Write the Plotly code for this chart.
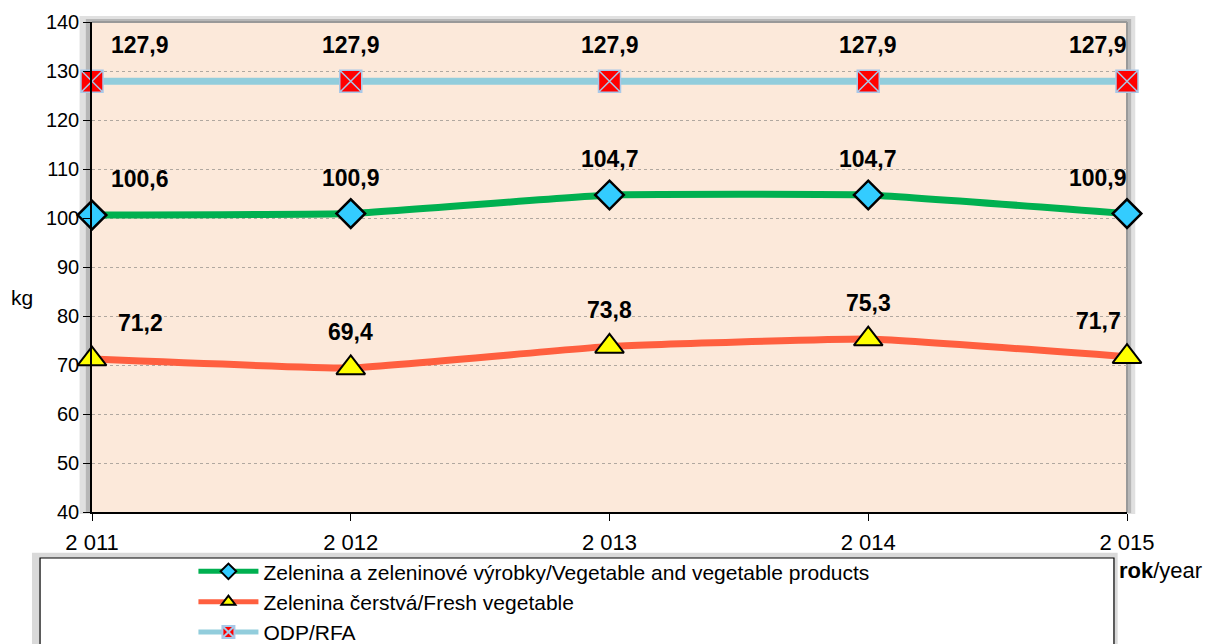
import plotly.graph_objects as go

years = [2011, 2012, 2013, 2014, 2015]
year_labels = ["2 011", "2 012", "2 013", "2 014", "2 015"]
veg_products = [100.6, 100.9, 104.7, 104.7, 100.9]
fresh_veg = [71.2, 69.4, 73.8, 75.3, 71.7]
rfa = [127.9, 127.9, 127.9, 127.9, 127.9]

names = ["Zelenina a zeleninové výrobky/Vegetable and vegetable products",
         "Zelenina čerstvá/Fresh vegetable",
         "ODP/RFA"]

FONT = "Liberation Sans, Arial, sans-serif"

def fmt(v):
    return f"{v:.1f}".replace(".", ",")

fig = go.Figure()

fig.add_trace(go.Scatter(
    x=years, y=veg_products, name=names[0], mode="lines+markers",
    line=dict(color="#00B050", width=7, shape="spline", smoothing=0.3),
    marker=dict(symbol="diamond", size=22, color="#33CCFF", line=dict(color="black", width=2.5)),
    cliponaxis=False))
fig.add_trace(go.Scatter(
    x=years, y=fresh_veg, name=names[1], mode="lines+markers",
    line=dict(color="#FF5F3F", width=7, shape="spline", smoothing=0.3),
    marker=dict(symbol="triangle-up", size=25, color="#FFFF00", line=dict(color="black", width=2)),
    cliponaxis=False))
fig.add_trace(go.Scatter(
    x=years, y=rfa, name=names[2], mode="lines+markers",
    line=dict(color="#92CDDC", width=7),
    marker=dict(symbol="square-x", size=22, color="#FF0000", line=dict(color="#A8C8E8", width=1.5)),
    cliponaxis=False))

# data labels
xshifts = [48, 0, 0, 0, -29]
for series in (rfa, veg_products, fresh_veg):
    for i, (x, v) in enumerate(zip(years, series)):
        fig.add_annotation(x=x, y=v, text="<b>" + fmt(v) + "</b>", showarrow=False,
                           xshift=xshifts[i], yshift=36,
                           font=dict(family=FONT, size=23, color="black"))

# axis titles
fig.add_annotation(xref="paper", yref="paper", x=-0.0676, y=0.437, text="kg", showarrow=False,
                   xanchor="center", yanchor="middle", font=dict(family=FONT, size=21, color="black"))
fig.add_annotation(xref="paper", yref="paper", x=0.990, y=-0.119, text="<b>rok</b>/year", showarrow=False,
                   xanchor="left", yanchor="middle", font=dict(family=FONT, size=22, color="black"))

shapes = []
# plot area shadow + background
shapes.append(dict(type="rect", xref="paper", yref="paper", x0=-0.012, x1=1.008, y0=-0.004, y1=1.012,
                   fillcolor="rgba(0,0,0,0.12)", line=dict(width=0), layer="below"))
shapes.append(dict(type="rect", xref="paper", yref="paper", x0=-0.006, x1=1.004, y0=-0.002, y1=1.006,
                   fillcolor="rgba(0,0,0,0.18)", line=dict(width=0), layer="below"))
shapes.append(dict(type="rect", xref="paper", yref="paper", x0=0, x1=1, y0=0, y1=1,
                   fillcolor="#FCE9DA", line=dict(width=0), layer="below"))
# legend shadow + box
shapes.append(dict(type="rect", xref="paper", yref="paper", x0=-0.058, x1=0.991, y0=-0.30, y1=-0.083,
                   fillcolor="rgba(0,0,0,0.15)", line=dict(width=0), layer="below"))
shapes.append(dict(type="rect", xref="paper", yref="paper", x0=-0.0502, x1=0.9874, y0=-0.30, y1=-0.0939,
                   fillcolor="white", line=dict(color="black", width=1.2), layer="below"))
# top/right border of plot area
shapes.append(dict(type="line", xref="paper", yref="paper", x0=0, x1=1, y0=1, y1=1,
                   line=dict(color="#999999", width=2), layer="below"))
shapes.append(dict(type="line", xref="paper", yref="paper", x0=1, x1=1, y0=0, y1=1,
                   line=dict(color="#999999", width=2), layer="below"))

fig.update_layout(
    width=1206, height=636,
    margin=dict(l=84, r=87, t=14, b=132, autoexpand=False),
    paper_bgcolor="white",
    plot_bgcolor="rgba(0,0,0,0)",
    font=dict(family=FONT, size=20, color="black"),
    showlegend=True,
    legend=dict(x=0.098, y=-0.080, xanchor="left", yanchor="top", bgcolor="rgba(0,0,0,0)",
                borderwidth=0, font=dict(family=FONT, size=21, color="black"),
                itemwidth=60, tracegroupgap=0, itemsizing="constant"),
    shapes=shapes,
    xaxis=dict(range=[2011, 2015], tickvals=years, ticktext=year_labels, showgrid=False,
               zeroline=False, showline=True, linecolor="black", linewidth=1.5,
               ticks="outside", ticklen=7, tickcolor="black", tickfont=dict(size=22),
               ticklabelstandoff=3, automargin=False),
    yaxis=dict(range=[40, 140], dtick=10, showgrid=True, gridcolor="#B0A8A0", griddash="dot",
               gridwidth=1, zeroline=False, showline=True, linecolor="black", linewidth=1.5,
               ticks="outside", ticklen=7, tickcolor="black", tickfont=dict(size=20),
               automargin=False),
)

fig.write_html("out.html")
